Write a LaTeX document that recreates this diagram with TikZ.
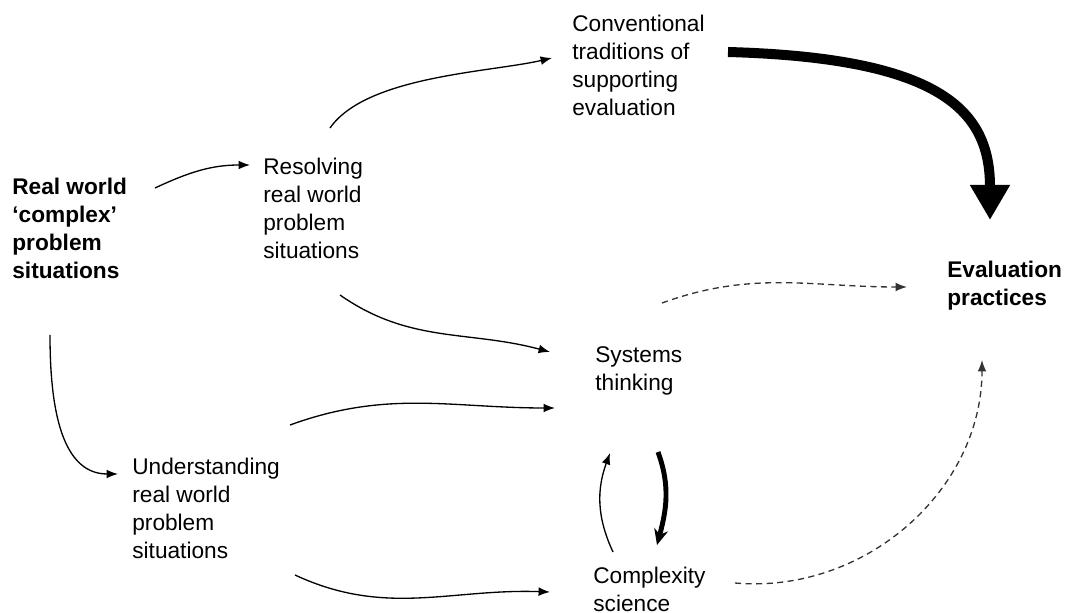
\documentclass[tikz,border=0pt]{standalone}
\usepackage{fontspec}
\setmainfont{Liberation Sans}
\usetikzlibrary{arrows.meta}
\begin{document}
\begin{tikzpicture}[x=0.02cm,y=0.02cm]
\tikzset{lbl/.style={anchor=north west, inner sep=0pt, align=left,
    font=\fontsize{12.9}{15.9}\selectfont},
  link/.style={line width=0.75pt, -{Latex[length=6.5pt,width=5pt]}},
  dashlink/.style={link, dash pattern=on 3.5pt off 2.5pt, draw=black!80},
  biglink/.style={line width=5.7pt, -{Triangle[length=20pt,width=21.5pt]}}}
\useasboundingbox (0,0) rectangle (1068,612);
% the boxes of text
\node[lbl,font=\fontsize{12.9}{15.9}\selectfont\bfseries] (real) at (12,434.5)
  {Real world\\‘complex’\\problem\\situations};
\node[lbl] (res) at (263,454) {Resolving\\real world\\problem\\situations};
\node[lbl] (conv) at (572,597) {Conventional\\traditions of\\supporting\\evaluation};
\node[lbl,font=\fontsize{12.9}{15.9}\selectfont\bfseries] (eval) at (947,351)
  {Evaluation\\practices};
\node[lbl] (sys) at (595,266) {Systems\\thinking};
\node[lbl] (und) at (132,154) {Understanding\\real world\\problem\\situations};
\node[lbl] (cpx) at (593,45) {Complexity\\science};
% the arrows -- top half
\draw[link] ([shift={(143,-10.5)}]real.north west) to[out=25,in=180]
  ([shift={(-13,-7)}]res.north west);
\draw[link] ([shift={(67,30)}]res.north west) to[out=55,in=193,looseness=0.7]
  ([shift={(-20,-43)}]conv.north west);
\draw[biglink] ([shift={(156,-37)}]conv.north west)
  .. controls ([shift={(370,-43)}]conv.north west)
  and ([shift={(43,150)}]eval.north west) .. ([shift={(43,41)}]eval.north west);
\draw[link] ([shift={(77,-137)}]res.north west) to[out=-35,in=165]
  ([shift={(-45,-6)}]sys.north west);
% the arrows -- bottom half
\draw[link] ([shift={(38,-157.5)}]real.north west) to[out=-90,in=180]
  ([shift={(-14,-16)}]und.north west);
\draw[link] ([shift={(158,33)}]und.north west) to[out=20,in=180]
  ([shift={(-40,-62)}]sys.north west);
\draw[link] ([shift={(163,-117)}]und.north west) to[out=-25,in=178]
  ([shift={(-43,-25)}]cpx.north west);
\draw[link] ([shift={(20,15)}]cpx.north west) to[out=115,in=-110]
  ([shift={(15,-107)}]sys.north west);
\draw[line width=2.8pt, -{Stealth[length=9pt,width=8pt]}]
  ([shift={(63,-106)}]sys.north west) to[out=-70,in=75]
  ([shift={(64,22)}]cpx.north west);
% dashed ones to the evaluation
\draw[dashlink] ([shift={(67,43)}]sys.north west) to[out=20,in=180]
  ([shift={(-40,-26)}]eval.north west);
\draw[dashlink] ([shift={(142,-16)}]cpx.north west) to[out=-5,in=-90]
  ([shift={(35,-99)}]eval.north west);
\end{tikzpicture}
\end{document}
